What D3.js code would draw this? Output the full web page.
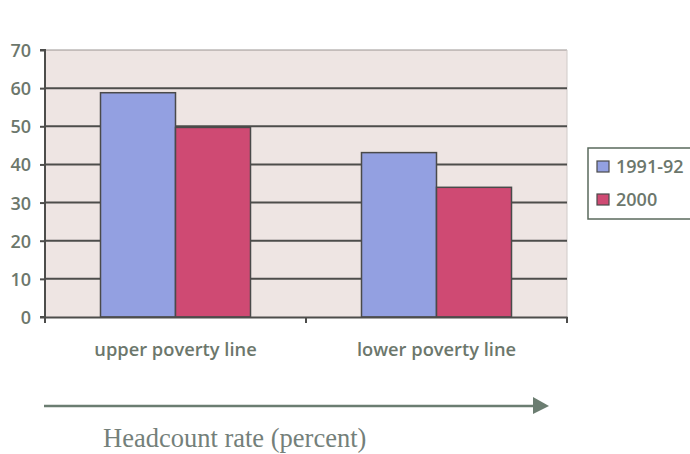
<!DOCTYPE html>
<html><head><meta charset="utf-8">
<script src="https://cdn.jsdelivr.net/npm/d3@7"></script>
<style>body{margin:0;background:#fff;}svg{display:block;}</style>
</head><body><svg id="c" width="690" height="454"></svg>
<script>
const categories = ["upper poverty line", "lower poverty line"];
const seriesNames = ["1991-92", "2000"];
const values1991 = [58.8, 43.1];
const values2000 = [49.7, 34.0];
const yTicks = [0, 10, 20, 30, 40, 50, 60, 70];
const colors = ["#93a0e1", "#cf4a73"];
const xTitle = "Headcount rate (percent)";

const svg = d3.select("#c");
const M = {l: 45, r: 567, t: 50, b: 317};
const textCol = "#6c776c";
const y = d3.scaleLinear().domain([0, 70]).range([M.b, M.t]);
const x0 = d3.scaleBand().domain(categories).range([M.l, M.r]).paddingInner(0).paddingOuter(0);
const x1 = d3.scaleBand().domain(seriesNames).range([0, x0.bandwidth()]).paddingInner(0).paddingOuter(0.74);

svg.append("rect").attr("x", M.l).attr("y", M.t).attr("width", M.r - M.l).attr("height", M.b - M.t).attr("fill", "#eee5e3");
svg.append("line").attr("x1", M.l).attr("x2", M.r).attr("y1", M.t).attr("y2", M.t).attr("stroke", "#9a9492").attr("stroke-width", 1);
svg.append("line").attr("x1", M.r).attr("x2", M.r).attr("y1", M.t).attr("y2", M.b).attr("stroke", "#d0cac8").attr("stroke-width", 1);

svg.append("g").selectAll("line").data(yTicks.filter(d => d > 0 && d < 70)).join("line")
  .attr("x1", M.l).attr("x2", M.r).attr("y1", d => y(d)).attr("y2", d => y(d))
  .attr("stroke", "#4d4d4b").attr("stroke-width", 2);

const data = [values1991, values2000];
const g = svg.append("g");
categories.forEach((c, i) => {
  seriesNames.forEach((s, j) => {
    g.append("rect")
      .attr("x", x0(c) + x1(s)).attr("y", y(data[j][i]))
      .attr("width", x1.bandwidth()).attr("height", y(0) - y(data[j][i]))
      .attr("fill", colors[j]).attr("stroke", "#4a4a4a").attr("stroke-width", 1.5);
  });
});

const ya = svg.append("g").attr("transform", `translate(${M.l},0)`)
  .call(d3.axisLeft(y).tickValues(yTicks).tickSize(5).tickPadding(9));
ya.select(".domain").attr("stroke", "#4d4d4b").attr("stroke-width", 2).attr("d", `M-5,${M.b}H0V${M.t}H-5`);
ya.selectAll(".tick line").attr("stroke", "#4d4d4b").attr("stroke-width", 2);
ya.selectAll("text").attr("fill", textCol).style("font-family", "'Open Sans'").style("font-weight", 600).style("font-size", "18px").attr("dy", "0.36em");

const xa = svg.append("g").attr("transform", `translate(0,${M.b})`)
  .call(d3.axisBottom(x0).tickSize(0).tickPadding(26));
xa.select(".domain").attr("stroke", "#4d4d4b").attr("stroke-width", 2);
xa.selectAll("text").attr("fill", textCol).style("font-family", "'Open Sans'").style("font-weight", 600).style("font-size", "18.3px");
const edges = [M.l, x0(categories[1]), M.r];
svg.append("g").selectAll("line").data(edges).join("line")
  .attr("x1", d => d).attr("x2", d => d).attr("y1", M.b).attr("y2", M.b + 6)
  .attr("stroke", "#4d4d4b").attr("stroke-width", 2);

const lg = svg.append("g");
lg.append("rect").attr("x", 588).attr("y", 148).attr("width", 110).attr("height", 71)
  .attr("fill", "#fff").attr("stroke", "#5a6a5c").attr("stroke-width", 1.5);
seriesNames.forEach((s, j) => {
  lg.append("rect").attr("x", 597).attr("y", 161 + j * 33).attr("width", 12).attr("height", 11)
    .attr("fill", colors[j]).attr("stroke", "#4a4a4a").attr("stroke-width", 1.2);
  lg.append("text").attr("x", 616).attr("y", 173 + j * 33).text(s)
    .attr("fill", textCol).style("font-family", "'Open Sans'").style("font-weight", 600).style("font-size", "18px");
});

const arrowCol = "#6b7d71";
svg.append("line").attr("x1", 44).attr("x2", 534).attr("y1", 406).attr("y2", 406).attr("stroke", arrowCol).attr("stroke-width", 2.5);
svg.append("path").attr("d", "M533,397L549,406L533,414Z").attr("fill", arrowCol);
svg.append("text").attr("x", 103).attr("y", 447).text(xTitle)
  .attr("fill", "#74807a").style("font-family", "'Liberation Serif'").style("font-size", "26.5px");
</script></body></html>
